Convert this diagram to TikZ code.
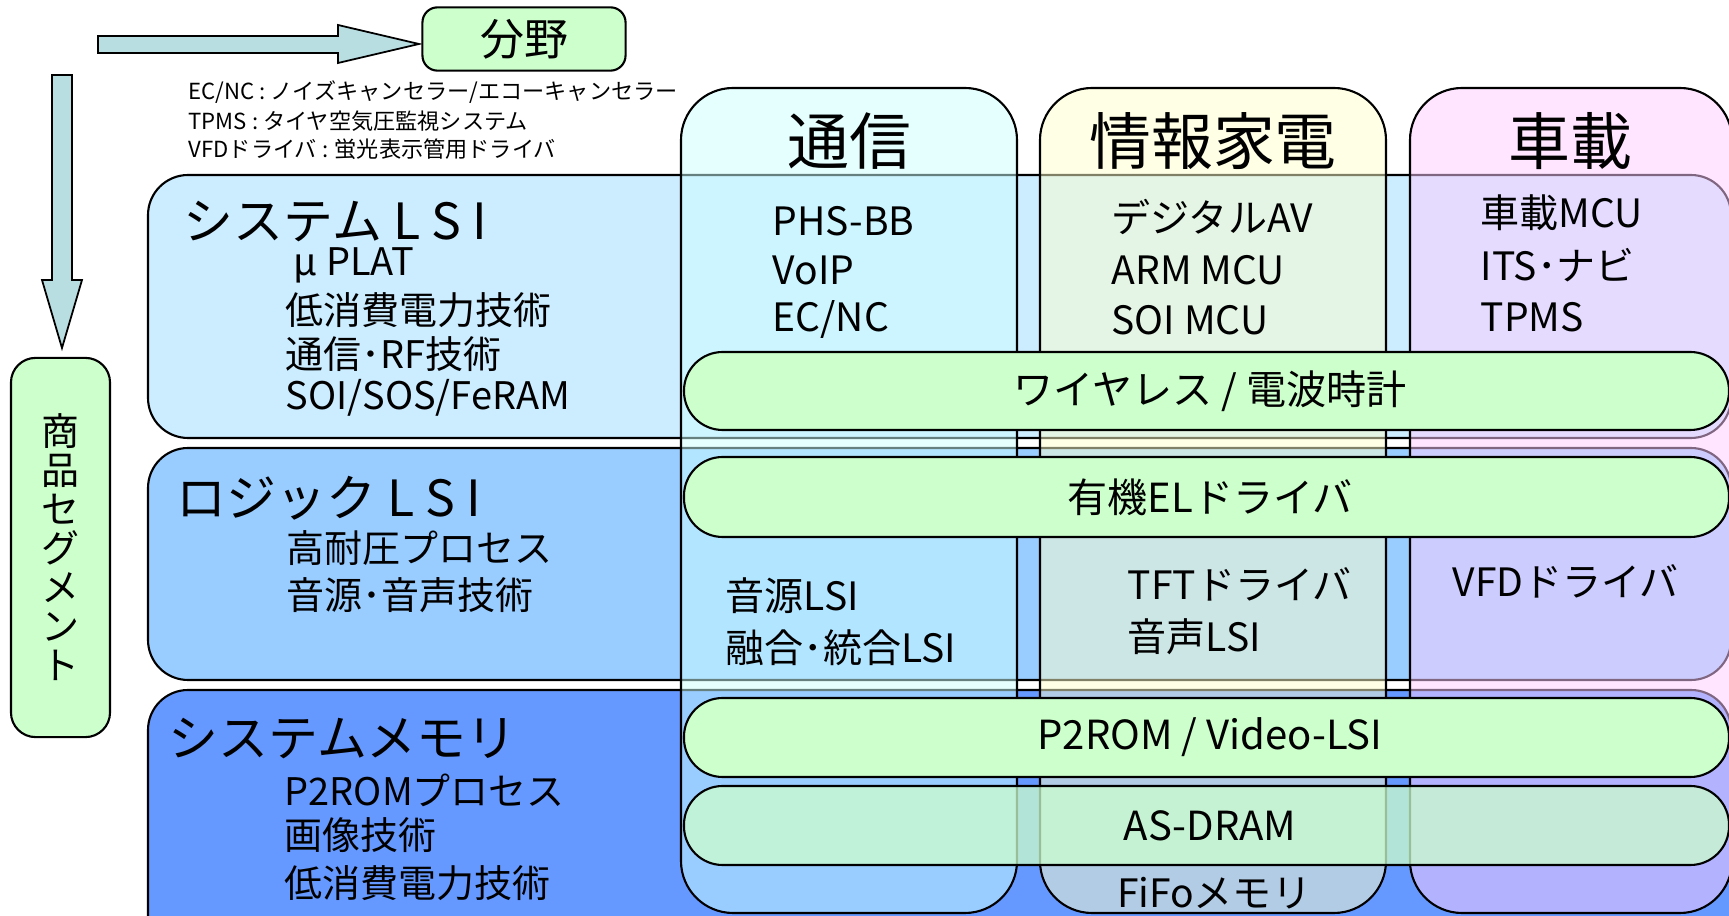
\documentclass[tikz,border=0pt]{standalone}
\usepackage{fontspec}
\setmainfont{Noto Sans CJK JP}

\definecolor{boxgreen}{HTML}{CCFFCC}
\definecolor{arrowfill}{HTML}{B8DEE2}
\definecolor{rowsys}{HTML}{CCECFF}
\definecolor{rowlogic}{HTML}{99CCFF}
\definecolor{rowmem}{HTML}{6699FF}
\definecolor{colcomm}{HTML}{CCFFFF}
\definecolor{colhome}{HTML}{FFFFCC}
\definecolor{colcar}{HTML}{FFCCFF}

\tikzset{
  rowbox/.style={draw=black, line width=0.6pt, rounded corners=11.4pt},
  colbox/.style={draw=black, line width=0.6pt, rounded corners=14.8pt, fill opacity=0.5},
  pillbox/.style={draw=black, line width=0.6pt, rounded corners=11pt, fill=boxgreen},
  greenbox/.style={draw=black, line width=0.6pt, fill=boxgreen},
  bigarrow/.style={draw=black, line width=0.5pt, fill=arrowfill},
  legend/.style={anchor=west, inner sep=0pt, font=\fontsize{6.3}{7.5}\selectfont},
  header/.style={inner sep=0pt, font=\fontsize{17.6}{20}\selectfont},
  rowtitle/.style={anchor=west, inner sep=0pt, font=\fontsize{14.2}{16}\selectfont},
  subitem/.style={anchor=west, inner sep=0pt, font=\fontsize{10.8}{12}\selectfont},
  colitem/.style={anchor=west, inner sep=0pt, font=\fontsize{11.1}{13}\selectfont},
  pilltext/.style={inner sep=0pt, font=\fontsize{11.4}{13}\selectfont}
}

\begin{document}
\begin{tikzpicture}[x=0.01cm, y=-0.01cm]
		\useasboundingbox (0,0) rectangle (1729,916);
		\clip (0,0) rectangle (1729,916);

		\draw[bigarrow] (98,36) -- (338,36) -- (338,25) -- (419,44) -- (338,63) -- (338,53) -- (98,53) -- cycle;
		\draw[bigarrow] (52,75) -- (72,75) -- (72,280) -- (82,280) -- (62,348) -- (42,280) -- (52,280) -- cycle;

		\node[greenbox, rounded corners=4.3pt, minimum width=2.03cm, minimum height=0.63cm,
		      font=\fontsize{12.5}{14}\selectfont] (field) at (524,39) {分野};
		\node[greenbox, rounded corners=7pt, minimum width=0.99cm, minimum height=3.79cm, align=center,
		      font=\fontsize{10.8}{11.1}\selectfont] (segment) at (60.5,547.5) {商\\品\\セ\\グ\\メ\\ン\\ト};

		\node[legend] (noteA) at (188,92) {EC/NC : ノイズキャンセラー/エコーキャンセラー};
		\node[legend] (noteB) at (188,121) {TPMS : タイヤ空気圧監視システム};
		\node[legend] (noteC) at (188,149) {VFDドライバ : 蛍光表示管用ドライバ};

		\draw[rowbox, fill=rowsys] (148,175) rectangle (1731,438);
		\draw[rowbox, fill=rowlogic] (148,448) rectangle (1731,680);
		\draw[rowbox, fill=rowmem] (148,690) rectangle (1731,960);

		\draw[colbox, fill=colcomm] (681,88) rectangle (1017,913);
		\draw[colbox, fill=colhome] (1040,88) rectangle (1386,913);
		\draw[colbox, fill=colcar] (1410,88) rectangle (1732,913);

		\node[header] (comm) at (849,141) {通信};
		\node[header] (home) at (1213,141) {情報家電};
		\node[header] (car) at (1570,141) {車載};

		\node[rowtitle] (syslsi) at (183,222) {システム L S I};
		\node[rowtitle] (logiclsi) at (176,498) {ロジック L S I};
		\node[rowtitle] (sysmem) at (168,739) {システムメモリ};

		\node[subitem] (sysA) at (293,265) {μ PLAT};
		\node[subitem] (sysB) at (285,310) {低消費電力技術};
		\node[subitem] (sysC) at (285,354) {通信･RF技術};
		\node[subitem] (sysD) at (285,398) {SOI/SOS/FeRAM};
		\node[subitem] (logicA) at (286,548) {高耐圧プロセス};
		\node[subitem] (logicB) at (286,595) {音源･音声技術};
		\node[subitem] (memA) at (284,790) {P2ROMプロセス};
		\node[subitem] (memB) at (284,835) {画像技術};
		\node[subitem] (memC) at (284,883) {低消費電力技術};

		\node[colitem] (commA) at (772,221) {PHS-BB};
		\node[colitem] (commB) at (772,270) {VoIP};
		\node[colitem] (commC) at (772,320) {EC/NC};
		\node[colitem] (homeA) at (1111,217) {デジタルAV};
		\node[colitem] (homeB) at (1111,270) {ARM MCU};
		\node[colitem] (homeC) at (1111,320) {SOI MCU};
		\node[colitem] (carA) at (1480,213) {車載MCU};
		\node[colitem] (carB) at (1480,265) {ITS･ナビ};
		\node[colitem] (carC) at (1480,317) {TPMS};
		\node[colitem] (commD) at (725,596) {音源LSI};
		\node[colitem] (commE) at (725,648) {融合･統合LSI};
		\node[colitem] (homeD) at (1127,584) {TFTドライバ};
		\node[colitem] (homeE) at (1127,637) {音声LSI};
		\node[colitem] (carD) at (1452,581) {VFDドライバ};
		\node[colitem, anchor=center] (homeF) at (1214,893) {FiFoメモリ};

		\draw[pillbox] (684,352) rectangle (1729,430);
		\node[pilltext] (wireless) at (1210,391) {ワイヤレス / 電波時計};
		\draw[pillbox] (684,457) rectangle (1729,537);
		\node[pilltext] (oled) at (1210,497) {有機ELドライバ};
		\draw[pillbox] (684,698) rectangle (1729,777);
		\node[pilltext] (p2rom) at (1210,737) {P2ROM / Video-LSI};
		\draw[pillbox, fill opacity=0.75] (684,786) rectangle (1729,865);
		\node[pilltext] (asdram) at (1210,826) {AS-DRAM};
\end{tikzpicture}
\end{document}
